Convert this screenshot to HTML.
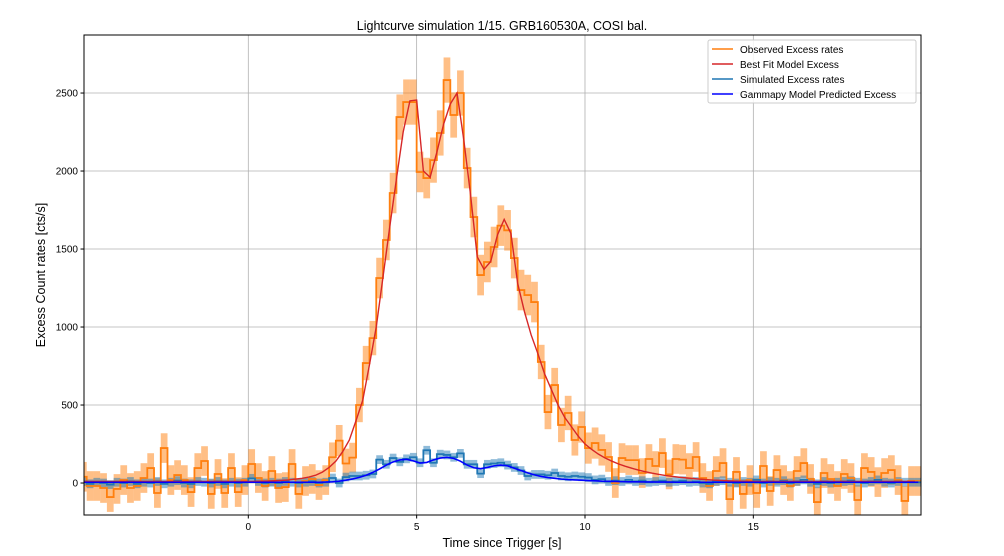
<!DOCTYPE html>
<html><head><meta charset="utf-8"><style>
body{margin:0;background:#fff;font-family:"Liberation Sans","DejaVu Sans",sans-serif;}
svg text{font-family:"Liberation Sans","DejaVu Sans",sans-serif;}
</style></head><body>
<svg id="chart" width="1004" height="551" xmlns="http://www.w3.org/2000/svg">
<rect width="1004" height="551" fill="#fff"/>
<g id="grid"></g>
<g id="marks"></g>
<rect x="84" y="35" width="837" height="480" fill="none" stroke="#000" stroke-width="1"/>
<g id="ticks"></g>
<text x="502" y="30" text-anchor="middle" font-size="12.5">Lightcurve simulation 1/15. GRB160530A, COSI bal.</text>
<text x="502" y="547" text-anchor="middle" font-size="12.5">Time since Trigger [s]</text>
<text transform="translate(45,275) rotate(-90)" text-anchor="middle" font-size="12.5">Excess Count rates [cts/s]</text>
<g>
<rect x="708" y="40" width="208" height="63" rx="2" fill="#fff" fill-opacity="0.85" stroke="#ccc"/>
<g><line x1="712" x2="733" y1="49" y2="49" stroke="#ff7f0e" stroke-width="1.5"/><text x="740" y="53" font-size="10">Observed Excess rates</text></g>
<g><line x1="712" x2="733" y1="64" y2="64" stroke="#d62728" stroke-width="1.5"/><text x="740" y="68" font-size="10">Best Fit Model Excess</text></g>
<g><line x1="712" x2="733" y1="79" y2="79" stroke="#1f77b4" stroke-width="1.5"/><text x="740" y="83" font-size="10">Simulated Excess rates</text></g>
<g><line x1="712" x2="733" y1="94" y2="94" stroke="#0000ff" stroke-width="1.5"/><text x="740" y="98" font-size="10">Gammapy Model Predicted Excess</text></g>
</g>
</svg>
<script>
const binStart = -5.0;
const binWidth = 0.2;
const observed = [40,-19,-19,-32,-90,-38,19,-32,-19,32,96,-64,224,19,51,19,-58,96,141,-70,58,-64,96,-58,19,122,32,-19,77,-32,-26,122,-70,13,26,-13,19,165,272,125,163,500,769,929,1314,1558,1859,2346,2442,2442,1994,1955,2070,2244,2583,2359,2500,2019,1705,1333,1417,1513,1650,1620,1442,1237,1205,1160,776,455,628,372,449,276,359,224,256,212,167,0,160,147,147,64,154,109,192,55,154,150,96,167,32,-19,77,128,-103,71,-70,19,-64,109,-51,83,19,-19,77,128,26,-122,64,26,-19,58,32,-109,96,71,6,64,83,19,-115,13,13];
const observedErr = [95,95,95,95,95,95,95,95,95,95,95,95,95,95,95,95,95,95,95,95,95,95,95,95,95,95,95,95,95,95,95,95,95,95,95,95,95,95,100,95,95,110,110,110,130,130,130,145,145,145,130,130,145,145,145,145,145,130,130,130,130,130,130,130,130,130,130,130,110,110,110,110,110,100,100,100,100,100,95,95,95,95,95,95,95,95,95,95,95,95,95,95,95,95,95,95,95,95,95,95,95,95,95,95,95,95,95,95,95,95,95,95,95,95,95,95,95,95,95,95,95,95,95,95,95];
const simulated = [10,-5,5,0,-10,5,0,10,-5,5,0,10,-5,5,15,0,-5,10,5,0,10,-5,5,0,5,30,10,0,5,0,10,5,0,5,10,0,5,32,0,38,45,45,50,58,150,120,160,136,155,165,130,210,130,185,180,165,190,120,120,60,120,125,130,115,100,80,45,55,55,50,64,45,40,45,40,35,20,25,10,15,10,20,10,15,5,10,15,5,10,15,5,10,0,-5,10,15,5,0,10,5,20,0,10,5,15,0,10,20,5,-5,10,0,5,10,15,5,0,10,20,5,0,10,5,5,5];
const simErr = 28;
const bestFit = [10,10,10,10,10,10,10,10,10,10,10,10,10,10,10,10,10,10,10,10,10,10,10,10,10,10,11,12,13,15,17,20,25,30,38,50,70,100,140,200,275,400,532,760,1000,1320,1640,1950,2250,2450,2455,2000,1960,2120,2300,2430,2500,2200,1850,1450,1370,1420,1590,1690,1600,1280,1100,950,830,700,600,500,420,360,300,250,215,185,160,140,122,107,94,82,72,63,55,48,42,37,33,29,25,22,19,17,15,13,12,11,10,10,10,10,10,10,10,10,10,10,10,10,10,10,10,10,10,10,10,10,10,10,10,10,10];
const gammapy = [5,5,5,5,5,5,5,5,5,5,5,5,5,5,5,5,5,5,5,5,5,5,5,5,5,5,5,5,5,5,5,5,5,5,5,5,6,8,12,18,26,36,50,68,90,115,135,148,152,142,128,132,148,160,165,158,140,115,98,92,100,110,115,110,95,80,65,52,42,35,30,25,22,20,18,16,14,12,11,10,9,8,8,7,7,6,6,6,5,5,5,5,5,5,5,5,5,5,5,5,5,5,5,5,5,5,5,5,5,5,5,5,5,5,5,5,5,5,5,5,5,5,5,5,5];
const xTicks = [0,5,10,15];
const yTicks = [0,500,1000,1500,2000,2500];

const L=84,R=921,T=35,B=515, X0=-4.88, X1=19.98, Y0=-205, Y1=2872;
const sx=t=>L+(t-X0)/(X1-X0)*(R-L);
const sy=v=>B-(v-Y0)/(Y1-Y0)*(B-T);
const NS='http://www.w3.org/2000/svg';
function mk(tag,attrs,parent){const e=document.createElementNS(NS,tag);for(const k in attrs)e.setAttribute(k,attrs[k]);parent.appendChild(e);return e;}
const grid=document.getElementById('grid'),marks=document.getElementById('marks'),ticks=document.getElementById('ticks');
const clip=mk('clipPath',{id:'clp'},document.getElementById('chart'));mk('rect',{x:L,y:T,width:R-L,height:B-T},clip);
marks.setAttribute('clip-path','url(#clp)');
xTicks.forEach(t=>{const x=sx(t);
 const g=mk('line',{x1:x,x2:x,y1:T,y2:B,stroke:'#b0b0b0','stroke-width':0.8},grid);
 
 mk('line',{x1:x,x2:x,y1:B,y2:B+3.5,stroke:'#000'},ticks);
 const tx=mk('text',{x:x,y:B+15,'text-anchor':'middle','font-size':10},ticks);tx.textContent=t;
 });
yTicks.forEach(v=>{const y=sy(v);
 const g=mk('line',{x1:L,x2:R,y1:y,y2:y,stroke:'#b0b0b0','stroke-width':0.8},grid);
 
 mk('line',{x1:L-3.5,x2:L,y1:y,y2:y,stroke:'#000'},ticks);
 const tx=mk('text',{x:L-6,y:y+3.5,'text-anchor':'end','font-size':10},ticks);tx.textContent=v;
 });
function bands(vals,errs,color,name){vals.forEach((v,i)=>{const t=binStart+i*binWidth;const e=Array.isArray(errs)?errs[i]:errs;
 const r=mk('rect',{x:sx(t),y:sy(v+e),width:sx(t+binWidth)-sx(t),height:sy(v-e)-sy(v+e),fill:color,'fill-opacity':0.5},marks);
 });}
function step(vals,color,name){let d='';vals.forEach((v,i)=>{const t=binStart+i*binWidth;d+=(i?'L':'M')+sx(t)+','+sy(v)+'L'+sx(t+binWidth)+','+sy(v);});
 const p=mk('path',{d:d,fill:'none',stroke:color,'stroke-width':1.8},marks);}
function line(vals,color,w,name,off){let d='';vals.forEach((v,i)=>{const t=binStart+(i+off)*binWidth;d+=(i?'L':'M')+sx(t)+','+sy(v);});
 const p=mk('path',{d:d,fill:'none',stroke:color,'stroke-width':w},marks);}
bands(observed,observedErr,'#ff7f0e','observed-error-band');
bands(simulated,simErr,'#1f77b4','simulated-error-band');
step(observed,'#ff7f0e','observed-step-line');
step(simulated,'#1f77b4','simulated-step-line');
line(bestFit,'#d62728',1.4,'best-fit-model-line',0);
line(gammapy,'#0000ff',1.6,'gammapy-model-line',0.5);
</script>
</body></html>
